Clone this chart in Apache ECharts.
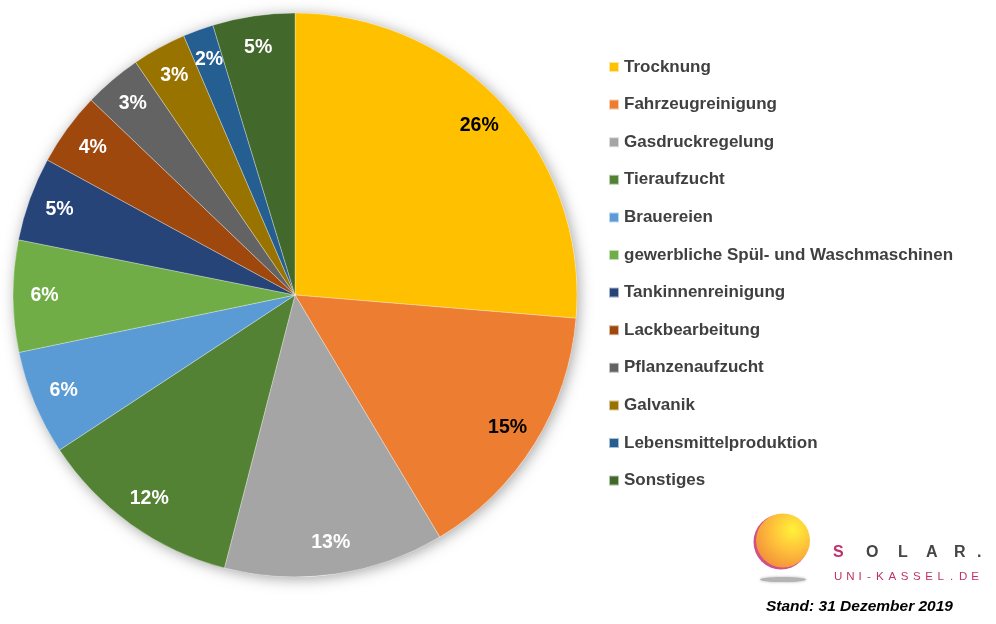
<!DOCTYPE html>
<html>
<head>
<meta charset="utf-8">
<script src="https://cdn.jsdelivr.net/npm/echarts@6/dist/echarts.min.js"></script>
<style>
html,body{margin:0;padding:0;background:#fff;}
#chart{width:996px;height:624px;}
</style>
</head>
<body>
<div id="chart"></div>
<script>
var categories = ['Trocknung','Fahrzeugreinigung','Gasdruckregelung','Tieraufzucht','Brauereien','gewerbliche Spül- und Waschmaschinen','Tankinnenreinigung','Lackbearbeitung','Pflanzenaufzucht','Galvanik','Lebensmittelproduktion','Sonstiges'];
var values = [26.3, 15.1, 12.6, 11.7, 6.0, 6.4, 4.8, 4.2, 3.3, 3.1, 1.75, 4.7];
var colors = ['#FFC000','#ED7D31','#A5A5A5','#548235','#5B9BD5','#70AD47','#264478','#9E480E','#636363','#997300','#255E91','#43682B'];
var labelColors = ['#000','#000','#fff','#fff','#fff','#fff','#fff','#fff','#fff','#fff','#fff','#fff'];
var standText = 'Stand: 31 Dezember 2019';

var FONT = '"Liberation Sans", Arial, sans-serif';
var chart = echarts.init(document.getElementById('chart'));
var CX = 295, CY = 295, R = 282;

var mainData = categories.map(function(n,i){
  return {name:n, value:values[i], itemStyle:{color:colors[i]}};
});
var labelData = categories.map(function(n,i){
  return {name:n, value:values[i], label:{color:labelColors[i]}};
});

var graphics = [];
graphics.push({type:'ellipse', shape:{cx:783, cy:579.5, rx:23, ry:2.6},
  style:{fill:'#b4b4b4', shadowBlur:3, shadowColor:'rgba(160,160,160,0.8)'}});
graphics.push({type:'circle', shape:{cx:781, cy:542, r:27.5}, style:{fill:'#d0508a'}});
graphics.push({type:'circle', shape:{cx:783, cy:540.5, r:27},
  style:{fill:{type:'radial',x:0.68,y:0.3,r:0.85,colorStops:[{offset:0,color:'#fff23a'},{offset:0.45,color:'#ffc23a'},{offset:1,color:'#f0883a'}]}}});
var solar = ['S','O','L','A','R','.'];
var solarX = [833, 866, 898, 926, 954, 977];
solar.forEach(function(ch,i){
  graphics.push({type:'text', x:solarX[i], y:553, style:{text:ch, fill:i===0?'#c0306a':'#454545', font:'bold 16px ' + FONT, textVerticalAlign:'middle'}});
});
var uni = 'UNI-KASSEL.DE'.split('');
var ux = 834;
uni.forEach(function(ch){
  graphics.push({type:'text', x:ux, y:577, style:{text:ch, fill:'#c0306a', font:'11.5px ' + FONT, textVerticalAlign:'middle'}});
  ux += (ch==='-'||ch==='.') ? 9 : (ch==='I'?8.5:12.3);
});
graphics.push({type:'text', x:766, y:607, style:{text:standText, fill:'#000', font:'italic bold 15.5px ' + FONT, textVerticalAlign:'middle'}});

chart.setOption({
  backgroundColor:'#fff',
  animation:false,
  legend:{
    data:categories,
    orient:'vertical',
    left:608, top:57, padding:0,
    icon:'rect', itemWidth:10, itemHeight:10,
    itemGap:17.6,
    selectedMode:false,
    textStyle:{fontFamily:FONT, fontWeight:'bold', fontSize:17, color:'#404040', lineHeight:20}
  },
  graphic:graphics,
  series:[
    {
      type:'pie', z:1, silent:true, center:[CX,CY], radius:[0,R], startAngle:90,
      label:{show:false}, labelLine:{show:false},
      itemStyle:{color:'#fff', shadowBlur:14, shadowColor:'rgba(0,0,0,0.35)', shadowOffsetX:2, shadowOffsetY:2},
      data:[{name:'_bg', value:1}]
    },
    {
      type:'pie', z:2, silent:true, center:[CX,CY], radius:[0,R], startAngle:90, clockwise:true,
      label:{show:false}, labelLine:{show:false},
      itemStyle:{borderColor:'rgba(255,255,255,0.6)', borderWidth:0.5},
      data:mainData
    },
    {
      type:'pie', z:3, silent:true, center:[CX,CY], radius:[213,R], startAngle:90, clockwise:true,
      itemStyle:{color:'rgba(0,0,0,0)'},
      labelLine:{show:false},
      label:{show:true, position:'inside', fontFamily:FONT, fontWeight:'bold', fontSize:19.5,
        formatter:function(p){return Math.round(p.percent)+'%';}},
      data:labelData
    }
  ]
});
</script>
</body>
</html>
